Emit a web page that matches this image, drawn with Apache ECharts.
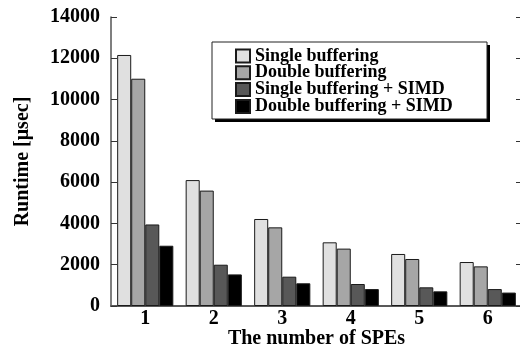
<!DOCTYPE html>
<html>
<head>
<meta charset="utf-8">
<script src="https://cdn.jsdelivr.net/npm/echarts@6/dist/echarts.min.js"></script>
<style>
html,body{margin:0;padding:0;background:#fff;}
#c{width:520px;height:347px;}
</style>
</head>
<body>
<div id="c"></div>
<script>
var categories = ['1', '2', '3', '4', '5', '6'];
var seriesNames = ['Single buffering', 'Double buffering', 'Single buffering + SIMD', 'Double buffering + SIMD'];
var singleBuf = [12160, 6100, 4215, 3085, 2520, 2130];
var doubleBuf = [11010, 5590, 3810, 2780, 2277, 1920];
var singleSimd = [3950, 2000, 1420, 1065, 905, 820];
var doubleSimd = [2920, 1530, 1100, 820, 710, 650];
var yTicks = [0, 2000, 4000, 6000, 8000, 10000, 12000, 14000];

var colors = ['#e0e0e0', '#a6a6a6', '#585858', '#000000'];
var seriesData = [singleBuf, doubleBuf, singleSimd, doubleSimd];
var FONT = 'Liberation Serif';

var chart = echarts.init(document.getElementById('c'), null, {renderer: 'canvas'});
var series = seriesData.map(function (d, i) {
  return {
    name: seriesNames[i],
    type: 'bar',
    data: d,
    barGap: '0%',
    barCategoryGap: '18%',
    itemStyle: {color: colors[i], borderColor: '#1a1a1a', borderWidth: 1},
    emphasis: {disabled: true}
  };
});

chart.setOption({
  animation: false,
  backgroundColor: '#fff',
  grid: {left: 111, top: 17, width: 411, height: 289, containLabel: false, outerBoundsMode: 'none'},
  graphic: [
    {type: 'rect', shape: {x: 215, y: 45, width: 275, height: 77}, style: {fill: '#000'}, z: 10},
    {type: 'rect', shape: {x: 212, y: 42, width: 275, height: 77}, style: {fill: '#fff', stroke: '#222', lineWidth: 1}, z: 11}
  ],
  legend: {
    orient: 'vertical',
    left: 235,
    top: 47,
    padding: [0, 0, 0, 0],
    itemWidth: 14,
    itemHeight: 13,
    itemGap: -1.2,
    icon: 'rect',
    z: 20,
    textStyle: {fontFamily: FONT, fontWeight: 'bold', fontSize: 18, color: '#000', lineHeight: 16.7},
    data: seriesNames
  },
  xAxis: [
    {
      type: 'category',
      data: categories,
      position: 'bottom',
      name: 'The number of SPEs',
      nameLocation: 'middle',
      nameGap: 23,
      nameMoveOverlap: false,
      nameTextStyle: {fontFamily: FONT, fontWeight: 'bold', fontSize: 20, color: '#000'},
      axisLine: {lineStyle: {color: '#666', width: 2}},
      axisTick: {inside: true, length: 6, lineStyle: {color: '#333', width: 1}},
      axisLabel: {margin: 3, fontFamily: FONT, fontWeight: 'bold', fontSize: 20, color: '#000'}
    },
    {
      type: 'category',
      data: categories,
      position: 'top',
      axisLine: {lineStyle: {color: '#555', width: 1.5}},
      axisTick: {inside: true, length: 6, lineStyle: {color: '#333', width: 1}},
      axisLabel: {show: false}
    }
  ],
  yAxis: [
    {
      type: 'value',
      min: 0, max: 14000, interval: 2000,
      position: 'left',
      name: 'Runtime [μsec]',
      nameLocation: 'middle',
      nameGap: 78,
      nameMoveOverlap: false,
      nameTextStyle: {fontFamily: FONT, fontWeight: 'bold', fontSize: 20, color: '#000'},
      axisLine: {show: true, lineStyle: {color: '#555', width: 1.5}},
      axisTick: {show: true, inside: true, length: 6, lineStyle: {color: '#333', width: 1}},
      splitLine: {show: false},
      axisLabel: {margin: 11, fontFamily: FONT, fontWeight: 'bold', fontSize: 20, color: '#000',
        formatter: function (v) { return yTicks.indexOf(v) >= 0 ? String(v) : ''; }}
    },
    {
      type: 'value',
      min: 0, max: 14000, interval: 2000,
      position: 'right',
      axisLine: {show: true, lineStyle: {color: '#555', width: 1.5}},
      axisTick: {show: true, inside: true, length: 6, lineStyle: {color: '#333', width: 1}},
      splitLine: {show: false},
      axisLabel: {show: false}
    }
  ],
  series: series
});
</script>
</body>
</html>
